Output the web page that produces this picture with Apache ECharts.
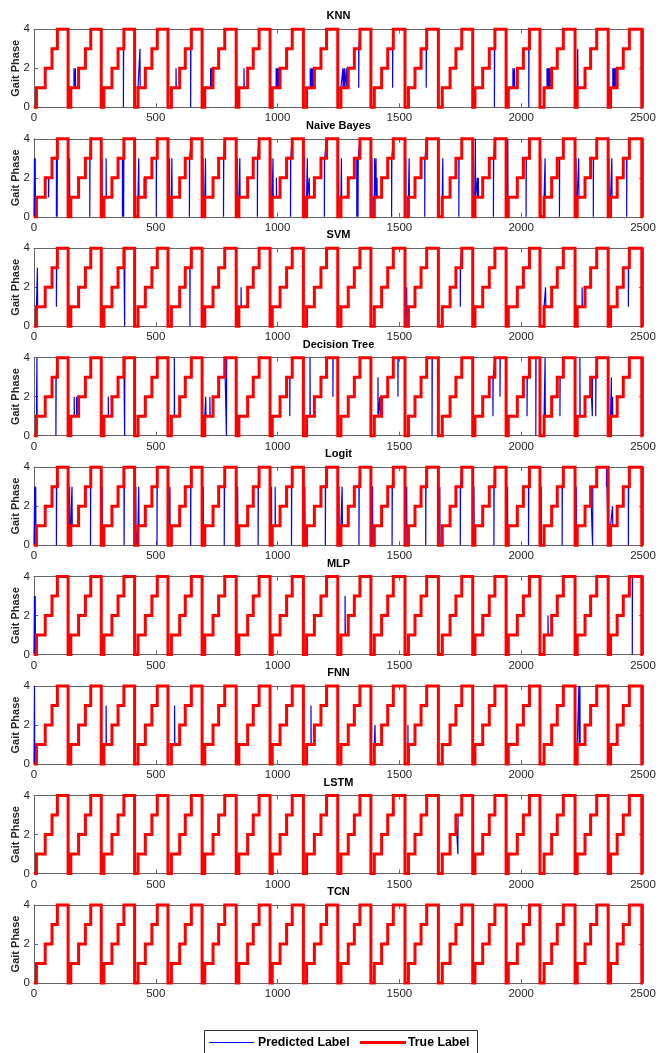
<!DOCTYPE html>
<html><head><meta charset="utf-8">
<script src="https://cdn.jsdelivr.net/npm/echarts@6/dist/echarts.min.js"></script>
<style>html,body{margin:0;padding:0;background:#fff}#c{width:659px;height:1053px}</style>
</head><body><div id="c"></div><script>
const modelNames = ['KNN','Naive Bayes','SVM','Decision Tree','Logit','MLP','FNN','LSTM','TCN'];
const legendNames = ['Predicted Label','True Label'];
const xTickValues = [0,500,1000,1500,2000,2500];
const yTickValues = [0,2,4];
const lastSample = 2500;
// true gait phase: [sample where the phase starts, phase]
const trueLabelSteps = [
 [0,0],[10,1],[46,2],[74,3],[96,4],
 [140,0],[151,1],[183,2],[211,3],[233,4],
 [276,0],[287,1],[320,2],[345,3],[369,4],
 [413,0],[427,1],[457,2],[484,3],[506,4],
 [550,0],[564,1],[598,2],[621,3],[646,4],
 [690,0],[701,1],[735,2],[758,3],[783,4],
 [830,0],[841,1],[877,2],[900,3],[924,4],
 [969,0],[978,1],[1010,2],[1037,3],[1060,4],
 [1106,0],[1119,1],[1151,2],[1178,3],[1201,4],
 [1247,0],[1260,1],[1290,2],[1315,3],[1338,4],
 [1383,0],[1397,1],[1427,2],[1452,3],[1475,4],
 [1523,0],[1537,1],[1564,2],[1589,3],[1612,4],
 [1660,0],[1676,1],[1708,2],[1732,3],[1756,4],
 [1801,0],[1810,1],[1842,2],[1869,3],[1892,4],
 [1938,0],[1947,1],[1984,2],[2009,3],[2034,4],
 [2077,0],[2094,1],[2125,2],[2148,3],[2173,4],
 [2221,0],[2230,1],[2262,2],[2285,3],[2310,4],
 [2357,0],[2367,1],[2394,2],[2419,3],[2444,4],
 [2495,0]
];
// predicted-label errors: [sample, predicted phase]
const knnErrors = [[164,2],[170,2],[367,0],[435,3],[583,2],[643,0],[725,2],[729,2],[733,2],[862,2],
 [994,2],[998,2],[1002,2],[1006,2],[1134,2],[1140,2],[1145,2],[1268,2],[1274,2],[1282,2],[1333,1],
 [1472,1],[1610,1],[1890,0],[1966,2],[1972,2],[2031,0],[2106,2],[2110,2],[2114,2],[2118,2],[2232,3],
 [2376,2],[2380,2],[2384,2],[2388,2],[2392,2]];
const naiveBayesErrors = [[2,3],[5,3],[60,1],[92,0],[95,0],[146,3],[229,0],[279,3],[296,3],[363,0],[368,0],
 [416,3],[430,3],[452,2],[502,0],[556,3],[566,3],[638,0],[694,3],[704,3],[778,0],[834,3],[845,3],[917,0],
 [972,3],[981,3],[995,2],[1053,0],[1110,3],[1122,3],[1130,2],[1192,0],[1250,3],[1262,3],[1325,0],[1330,0],
 [1387,3],[1398,3],[1404,3],[1408,2],[1468,0],[1526,3],[1540,3],[1604,0],[1662,3],[1678,3],[1744,0],
 [1804,3],[1812,4],[1820,2],[1824,2],[1886,0],[1941,4],[1945,4],[2020,0],[2080,3],[2098,3],[2157,0],
 [2225,3],[2236,3],[2296,0],[2360,3],[2372,3],[2433,0],[2496,3]];
const svmErrors = [[14,3],[92,1],[372,0],[640,0],[850,2],[1010,1],[1530,2],[1750,1],[2100,2],[2250,2],[2440,1]];
const decisionTreeErrors = [[12,4],[90,0],[165,2],[175,2],[305,2],[372,0],[576,4],[705,2],[722,2],[790,0],
 [1050,1],[1133,4],[1227,2],[1412,3],[1420,2],[1494,2],[1634,0],[1884,1],[1913,2],[2024,1],[2060,0],
 [2098,4],[2159,1],[2241,4],[2292,1],[2306,1],[2370,3],[2375,2],[2498,1],[2499,1],[2500,1]];
const logitErrors = [[3,3],[7,3],[92,0],[146,3],[156,3],[232,0],[280,3],[370,0],[418,3],[430,3],[505,0],[558,3],[643,0],[695,3],
 [781,0],[836,3],[920,0],[975,3],[990,3],[1057,0],[1112,3],[1196,0],[1252,3],[1265,3],[1334,0],[1390,3],[1470,0],[1530,3],
 [1608,0],[1666,3],[1750,0],[1806,3],[1888,0],[1944,3],[2030,0],[2082,3],[2168,0],[2226,3],[2293,0],[2350,3],[2375,2],[2440,0],[2486,4]];
const mlpErrors = [[2,3],[5,3],[140,4],[1277,3],[1845,1],[1925,4],[1930,4],[2110,2],[2456,0]];
const fnnErrors = [[2,4],[296,3],[577,3],[1137,3],[1400,2],[1535,2],[2237,4],[2241,4]];
const lstmErrors = [[1740,1]];
const tcnErrors = [];
const errorLists = [knnErrors, naiveBayesErrors, svmErrors, decisionTreeErrors, logitErrors, mlpErrors, fnnErrors, lstmErrors, tcnErrors];

function trueAt(i){
  let v = trueLabelSteps[0][1];
  for (const [x, p] of trueLabelSteps){ if (x <= i) v = p; else break; }
  return v;
}
function toSteps(valueAt){
  let prev = valueAt(0);
  const pts = [[0, prev]];
  for (let i = 1; i <= lastSample; i++){
    const v = valueAt(i);
    if (v !== prev){ pts.push([i, prev], [i, v]); prev = v; }
  }
  pts.push([lastSample, prev]);
  return pts;
}
const trueData = toSteps(trueAt);
const FONT = 'Liberation Sans, Arial, Helvetica, sans-serif';
const AX = '#666666', TXT = '#262626';
const grids = [], xAxes = [], yAxes = [], series = [], graphics = [];
const L = 34, W = 609, H = 78;
modelNames.forEach((name, i) => {
  const top = 29.3 + 109.46 * i;
  grids.push({left: L, top: top, width: W, height: H, containLabel: false, outerBoundsMode: 'none'});
  const tick = {show: true, inside: true, length: 4, lineStyle: {color: AX}};
  const line = {show: true, onZero: false, lineStyle: {color: AX, width: 1}};
  xAxes.push({gridIndex: i, type: 'value', min: 0, max: lastSample, interval: 500, position: 'bottom',
    axisLine: line, axisTick: tick,
    axisLabel: {fontFamily: FONT, fontSize: 11.5, color: TXT, margin: 5, showMinLabel: true, showMaxLabel: true,
      formatter: v => xTickValues.includes(v) ? String(v) : ''},
    splitLine: {show: false}});
  xAxes.push({gridIndex: i, type: 'value', min: 0, max: lastSample, interval: 500, position: 'top',
    axisLine: line, axisTick: tick, axisLabel: {show: false}, splitLine: {show: false}});
  yAxes.push({gridIndex: i, type: 'value', min: 0, max: 4, interval: 2, position: 'left',
    name: 'Gait Phase', nameLocation: 'middle', nameGap: 13, nameMoveOverlap: false,
    nameTextStyle: {fontFamily: FONT, fontSize: 11, fontWeight: 'bold', color: TXT},
    axisLine: line, axisTick: tick,
    axisLabel: {fontFamily: FONT, fontSize: 11.5, color: TXT, margin: 4,
      formatter: v => yTickValues.includes(v) ? String(v) : ''},
    splitLine: {show: false}});
  yAxes.push({gridIndex: i, type: 'value', min: 0, max: 4, interval: 2, position: 'right',
    axisLine: line, axisTick: tick, axisLabel: {show: false}, splitLine: {show: false}});
  const errMap = new Map(errorLists[i]);
  const predData = toSteps(j => errMap.has(j) ? errMap.get(j) : trueAt(j));
  series.push({name: legendNames[0], type: 'line', xAxisIndex: 2*i, yAxisIndex: 2*i,
    data: predData, symbol: 'none', showSymbol: false, clip: false,
    lineStyle: {color: '#0000ff', width: 1.2}, itemStyle: {color: '#0000ff'}, z: 2, animation: false});
  series.push({name: legendNames[1], type: 'line', xAxisIndex: 2*i, yAxisIndex: 2*i,
    data: trueData, symbol: 'none', showSymbol: false, clip: false,
    lineStyle: {color: '#ff0000', width: 3, join: 'miter'}, itemStyle: {color: '#ff0000'}, z: 3, animation: false});
  graphics.push({type: 'text', x: L + W/2, y: top - 13, z: 10,
    style: {text: name, align: 'center', verticalAlign: 'middle', font: 'bold 11px ' + FONT, fill: '#000'}});
});
// legend box (drawn as graphic)
const LF = 'bold 12.3px ' + FONT;
graphics.push({type: 'rect', shape: {x: 204.5, y: 1030.5, width: 273, height: 40}, z: 10,
  style: {fill: '#fff', stroke: '#333', lineWidth: 1}});
graphics.push({type: 'line', shape: {x1: 209, y1: 1042.5, x2: 254, y2: 1042.5}, z: 11,
  style: {stroke: '#0000ff', lineWidth: 1}});
graphics.push({type: 'text', x: 258, y: 1042.5, z: 11,
  style: {text: legendNames[0], align: 'left', verticalAlign: 'middle', font: LF, fill: '#000'}});
graphics.push({type: 'line', shape: {x1: 360, y1: 1042.5, x2: 406, y2: 1042.5}, z: 11,
  style: {stroke: '#ff0000', lineWidth: 3}});
graphics.push({type: 'text', x: 408, y: 1042.5, z: 11,
  style: {text: legendNames[1], align: 'left', verticalAlign: 'middle', font: LF, fill: '#000'}});
const chart = echarts.init(document.getElementById('c'), null, {renderer: 'canvas'});
chart.setOption({
  animation: false,
  backgroundColor: '#fff',
  grid: grids, xAxis: xAxes, yAxis: yAxes, series: series, graphic: graphics
});
</script></body></html>
